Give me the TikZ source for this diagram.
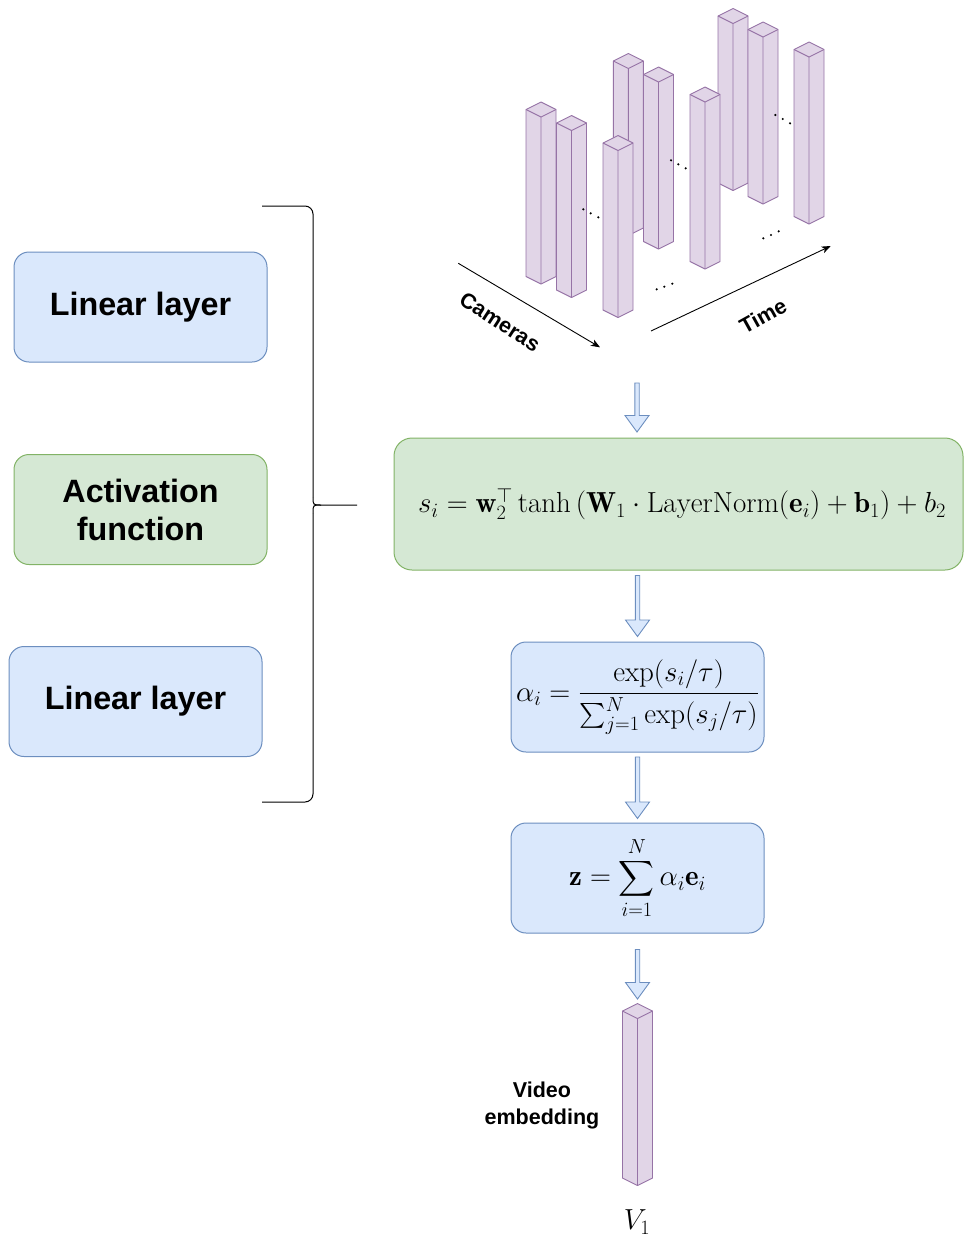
\RequirePackage{fix-cm}
\documentclass[tikz,border=0pt]{standalone}
\usepackage{amsmath}
\usepackage{fontspec}
\newfontfamily\labelfont{Liberation Sans}
\usetikzlibrary{arrows.meta,calc}

\definecolor{blueFill}{HTML}{DAE8FC}
\definecolor{blueLine}{HTML}{6C8EBF}
\definecolor{greenFill}{HTML}{D5E8D4}
\definecolor{greenLine}{HTML}{82B366}
\definecolor{barFill}{HTML}{E1D5E7}
\definecolor{barLine}{HTML}{9673A6}

\tikzset{
  % rounded boxes
  bluebox/.style={draw=blueLine, fill=blueFill, line width=1pt, rounded corners=15pt,
    minimum width=253pt, minimum height=110pt, inner sep=0pt, align=center},
  greenbox/.style={bluebox, draw=greenLine, fill=greenFill},
  layertext/.style={font=\labelfont\bfseries\fontsize{32.3}{38}\selectfont},
  mathtext/.style={font=\fontsize{29}{34}\selectfont},
  axislabel/.style={font=\labelfont\bfseries\fontsize{21.5}{26}\selectfont},
  axisline/.style={line width=0.9pt, -{Stealth[length=9pt,width=7pt,inset=2.5pt]}},
  % block arrow between two points
  blockarrow/.style={draw=blueLine, fill=blueFill, line width=0.9pt,
    to path={let \p1=(\tikztostart), \p2=(\tikztotarget) in
      (\x1-2.2pt,\y1) -- (\x1-2.2pt,\y2+16.5pt) -- (\x1-12pt,\y2+16.5pt) -- (\x1,\y2)
      -- (\x1+12pt,\y2+16.5pt) -- (\x1+2.2pt,\y2+16.5pt) -- (\x1+2.2pt,\y1) -- cycle}},
  % one embedding column, anchored at its front bottom corner
  tokenbar/.pic={
    \filldraw[fill=barFill, draw=barLine, line width=0.9pt, line join=round]
      (0,0) -- (-15,-7.5) -- (-15,-174.5) -- (0,-182) -- (15,-174.5) -- (15,-7.5) -- cycle;
    \draw[barLine, line width=0.9pt, line join=round]
      (-15,-174.5) -- (0,-167) -- (15,-174.5) (0,-167) -- (0,0);
  },
  dot/.style={fill=black}
}

\begin{document}
\begin{tikzpicture}[x=1pt,y=-1pt]
\useasboundingbox (0,0) rectangle (965,1237);

% ---- embedding columns over cameras and time (back to front)
\pic at (733,190.5) {tokenbar};
\pic at (763,204) {tokenbar};
\pic at (809,224) {tokenbar};
\pic at (628.3,235.5) {tokenbar};
\pic at (658.5,249) {tokenbar};
\pic at (705,269) {tokenbar};
\pic at (541,284) {tokenbar};
\pic at (571.5,297.5) {tokenbar};
\pic at (618,317.5) {tokenbar};

% ellipses between columns
\foreach \p in {(583.3,209.3),(590.7,213.3),(598.3,217.3),
                (671,160.3),(678.3,164.3),(685.7,168.3),
                (775.3,115),(782.7,119),(790,123.3),
                (656.7,289.3),(664.3,286.7),(672.3,283.7),
                (763.3,238.3),(771,235),(778.7,231.3)}
  \fill[dot] \p circle (1.2pt);

% axes
\coordinate (camStart) at (458.3,263.3);
\coordinate (camEnd) at (600,347.3);
\coordinate (timeStart) at (651,331);
\coordinate (timeEnd) at (830.7,246);
\draw[axisline] (camStart) -- (camEnd);
\draw[axisline] (timeStart) -- (timeEnd);
\node[axislabel, rotate=-33] (camLabel) at (500,322) {Cameras};
\node[axislabel, rotate=29] (timeLabel) at (763,316) {Time};

% ---- left column: scoring MLP layers
\node[bluebox, layertext] (lin1) at (140.5,307) {Linear layer};
\node[greenbox, layertext] (act) at (140.5,509.5) {Activation\\function};
\node[bluebox, layertext] (lin2) at (135.5,701.5) {Linear layer};

% brace grouping the three layers
\coordinate (braceTop) at (262,206);
\coordinate (braceBot) at (262,802);
\coordinate (braceTip) at (357,505);
\draw[line width=1pt, rounded corners=8pt] (braceTop) -- (313,206) -- (313,497);
\draw[line width=1pt] (313,497) .. controls (313,505) .. (321,505) -- (braceTip);
\draw[line width=1pt] (321,505) .. controls (313,505) .. (313,513);
\draw[line width=1pt, rounded corners=8pt] (313,513) -- (313,802) -- (braceBot);

% ---- right column: attention pooling
\node[greenbox, mathtext, minimum width=569pt, minimum height=132pt, rounded corners=18pt]
  (score) at (678.5,504)
  {\hspace*{7pt}$s_i = \mathbf{w}_2^{\top}\tanh\left(\mathbf{W}_1\cdot\operatorname{LayerNorm}(\mathbf{e}_i)+\mathbf{b}_1\right)+b_2$};
\node[bluebox, mathtext] (alpha) at (637.5,697)
  {$\displaystyle \alpha_i = \frac{\exp(s_i/\tau)}{\sum_{j=1}^{N}\exp(s_j/\tau)}$};
\node[bluebox, mathtext] (zsum) at (637.5,878)
  {$\displaystyle \mathbf{z} = \sum_{i=1}^{N}\alpha_i\mathbf{e}_i$};

% pooled video embedding
\pic at (637.5,1185.5) {tokenbar};
\coordinate (vtop) at (637.5,1004);
\coordinate (stack) at (637,383);
\node[font=\labelfont\bfseries\fontsize{21.5}{27}\selectfont, align=center] (vlabel) at (542,1105)
  {Video\\embedding};
\node[mathtext] (vname) at (637,1222) {$V_1$};

% block arrows
\path[blockarrow] (stack) to ([yshift=5.5pt]score.north -| stack);
\path[blockarrow] ([yshift=-5pt]score.south -| alpha.north) to ([yshift=5pt]alpha.north);
\path[blockarrow] ([yshift=-4.5pt]alpha.south) to ([yshift=4pt]zsum.north);
\path[blockarrow] ([yshift=-16pt]zsum.south) to ([yshift=5pt]vtop);
\end{tikzpicture}
\end{document}
